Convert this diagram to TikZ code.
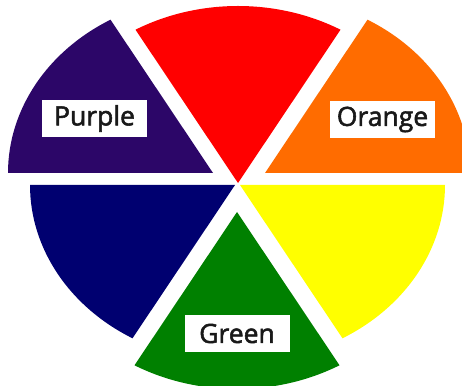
\documentclass[tikz,border=0pt]{standalone}
\usepackage{fontspec}
\setmainfont{Open Sans}
\newfontfamily\labelfont[FakeBold=2]{Open Sans}
\definecolor{cpurple}{RGB}{44,6,104}
\definecolor{cred}{RGB}{255,0,0}
\definecolor{corange}{RGB}{255,108,0}
\definecolor{cyellow}{RGB}{255,255,0}
\definecolor{cgreen}{RGB}{0,128,0}
\definecolor{cblue}{RGB}{0,0,112}
\definecolor{ctext}{RGB}{25,25,25}
\tikzset{
  wedge/.style={draw=none},
  labelbox/.style={fill=white, minimum width=105pt, minimum height=37pt, inner sep=0pt,
    text=ctext, font=\labelfont\fontsize{26.5}{30}\selectfont}
}
\newcommand{\piewedge}[4]{% color, apex, start, end
  \fill[wedge,#1] #2 -- ++(#3:205pt and 177pt) arc[start angle=#3, end angle=#4, x radius=205pt, y radius=177pt] -- cycle;}
\begin{document}
\begin{tikzpicture}[x=1pt,y=1pt]
\useasboundingbox (0,0) rectangle (462,385);
\clip (0,0) rectangle (462,385);
\fill[white] (0,0) rectangle (462,385);
\piewedge{corange}{(265,212)}{0}{60}
\piewedge{cred}{(238,202)}{60}{120}
\piewedge{cpurple}{(213,212)}{120}{180}
\piewedge{cblue}{(235,200)}{180}{240}
\piewedge{cgreen}{(237,173)}{240}{300}
\piewedge{cyellow}{(240,200)}{300}{360}
\node[labelbox] (purple) at (94.5,266.5) {Purple};
\node[labelbox] (orange) at (382.5,265.5) {Orange};
\node[labelbox] (green) at (237,51.5) {Green};
\end{tikzpicture}
\end{document}
